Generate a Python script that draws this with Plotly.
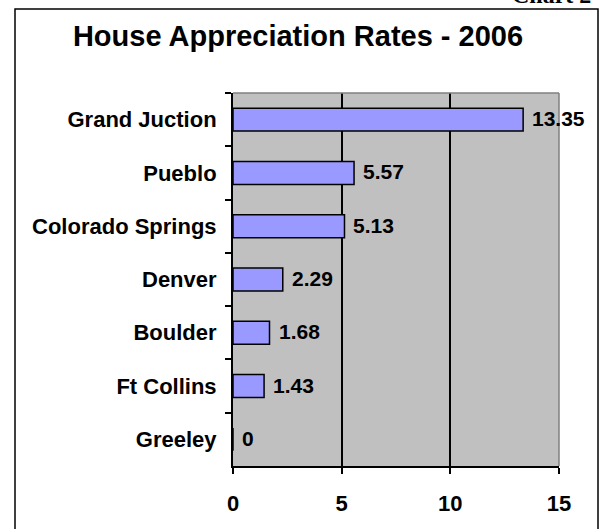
import plotly.graph_objects as go

categories = ["Grand Juction", "Pueblo", "Colorado Springs", "Denver", "Boulder", "Ft Collins", "Greeley"]
values = [13.35, 5.57, 5.13, 2.29, 1.68, 1.43, 0]
value_labels = ["13.35", "5.57", "5.13", "2.29", "1.68", "1.43", "0"]
x_ticks = [0, 5, 10, 15]
title_text = "House Appreciation Rates - 2006"
corner_text = "Chart 2"

W, H = 603, 529
L, R, T, B = 233, 44, 93, 63
pw, ph = W - L - R, H - T - B

def px_x(p):
    return (p - L) / pw

def px_y(p):
    return (H - B - p) / ph

FONT = "Liberation Sans, Arial, sans-serif"

fig = go.Figure()
fig.add_trace(go.Bar(
    y=categories, x=values, orientation="h",
    marker=dict(color="#9999FF", line=dict(color="black", width=1.5)),
    width=0.43, cliponaxis=False, hoverinfo="skip",
))

for c, v, t in zip(categories, values, value_labels):
    fig.add_annotation(x=v, y=c, text=t, showarrow=False, xanchor="left", yanchor="middle",
                       xshift=7, yshift=1, font=dict(family=FONT, size=21, color="black", weight="bold"))

fig.update_layout(
    width=W, height=H,
    margin=dict(l=L, r=R, t=T, b=B),
    paper_bgcolor="white", plot_bgcolor="#C0C0C0",
    showlegend=False,
    font=dict(family=FONT, size=22, color="black", weight="bold"),
    title=dict(text=title_text, x=298 / W, xanchor="center", y=1 - 36 / H, yanchor="middle",
               font=dict(family=FONT, size=29, color="black", weight="bold")),
    xaxis=dict(range=[0, 15], tickvals=x_ticks, showgrid=True, gridcolor="black", gridwidth=1.5,
               zeroline=False, showline=True, linecolor="black", linewidth=2,
               ticks="outside", ticklen=6, tickwidth=1.5, tickcolor="black",
               ticklabelstandoff=11, fixedrange=True,
               tickfont=dict(family=FONT, size=22, color="black", weight="bold")),
    yaxis=dict(autorange="reversed", showgrid=False, zeroline=False, showline=True,
               linecolor="black", linewidth=2, ticks="outside", ticklen=6, tickwidth=1.5,
               tickcolor="black", tickson="boundaries", ticklabelstandoff=10, fixedrange=True,
               tickfont=dict(family=FONT, size=22, color="black", weight="bold")),
    bargap=0.57,
)

# gray top/right border of plot area
fig.add_shape(type="line", xref="paper", yref="paper", x0=0, x1=1, y0=1, y1=1,
              line=dict(color="#808080", width=1.5), layer="above")
fig.add_shape(type="line", xref="paper", yref="paper", x0=1, x1=1, y0=0, y1=1,
              line=dict(color="#808080", width=1.5), layer="above")

# outer chart border
fig.add_shape(type="rect", xref="paper", yref="paper",
              x0=px_x(15), x1=px_x(598), y0=px_y(540), y1=px_y(9),
              line=dict(color="black", width=1.5), fillcolor="rgba(0,0,0,0)", layer="below")

fig.add_annotation(xref="paper", yref="paper", x=px_x(510), y=px_y(10), xanchor="left", yanchor="bottom",
                   text=corner_text, showarrow=False,
                   font=dict(family="Liberation Serif, Times New Roman, serif", size=24, color="black", weight="bold"))

fig.write_html("out.html")
